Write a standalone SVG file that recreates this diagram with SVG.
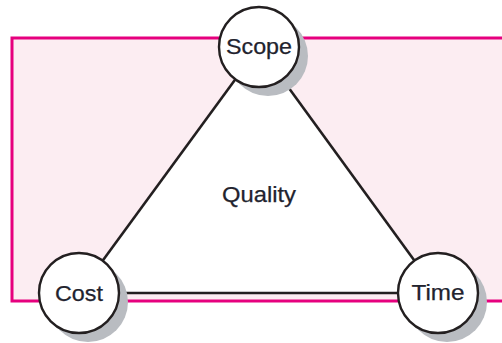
<svg xmlns="http://www.w3.org/2000/svg" width="502" height="343" viewBox="0 0 502 343">
  <style>
    .frame { fill: #fcedf2; stroke: #e6007e; stroke-width: 3; }
    .edge { stroke: #231f20; stroke-width: 2.6; fill: none; }
    .shadow { fill: #b9bcc1; }
    .node { fill: #ffffff; stroke: #231f20; stroke-width: 2.4; }
    .label { font-family: "Liberation Sans", Arial, sans-serif; font-size: 22px; fill: #22232e; stroke: #22232e; stroke-width: 0.25; text-anchor: middle; }
  </style>
  <!-- background panel -->
  <rect class="frame" x="12" y="38" width="500" height="263"/>
  <!-- triangle interior -->
  <polygon points="259,47 79,293 438,293" fill="#ffffff"/>
  <g id="connectors">
    <line class="edge" x1="259" y1="47" x2="79" y2="293"/>
    <line class="edge" x1="259" y1="47" x2="438" y2="293"/>
    <line class="edge" x1="79" y1="293" x2="438" y2="293"/>
  </g>
  <g id="quality">
    <text class="label" x="259" y="202" textLength="74" lengthAdjust="spacingAndGlyphs">Quality</text>
  </g>
  <g id="scope">
    <circle class="shadow" cx="268" cy="56" r="40"/>
    <circle class="node" cx="259" cy="47" r="40"/>
    <text class="label" x="259" y="54" textLength="66" lengthAdjust="spacingAndGlyphs">Scope</text>
  </g>
  <g id="cost">
    <circle class="shadow" cx="88" cy="302" r="40"/>
    <circle class="node" cx="79" cy="293" r="40"/>
    <text class="label" x="79" y="301" textLength="48" lengthAdjust="spacingAndGlyphs">Cost</text>
  </g>
  <g id="time">
    <circle class="shadow" cx="447" cy="302" r="40"/>
    <circle class="node" cx="438" cy="293" r="40"/>
    <text class="label" x="438" y="300" textLength="53" lengthAdjust="spacingAndGlyphs">Time</text>
  </g>
</svg>
